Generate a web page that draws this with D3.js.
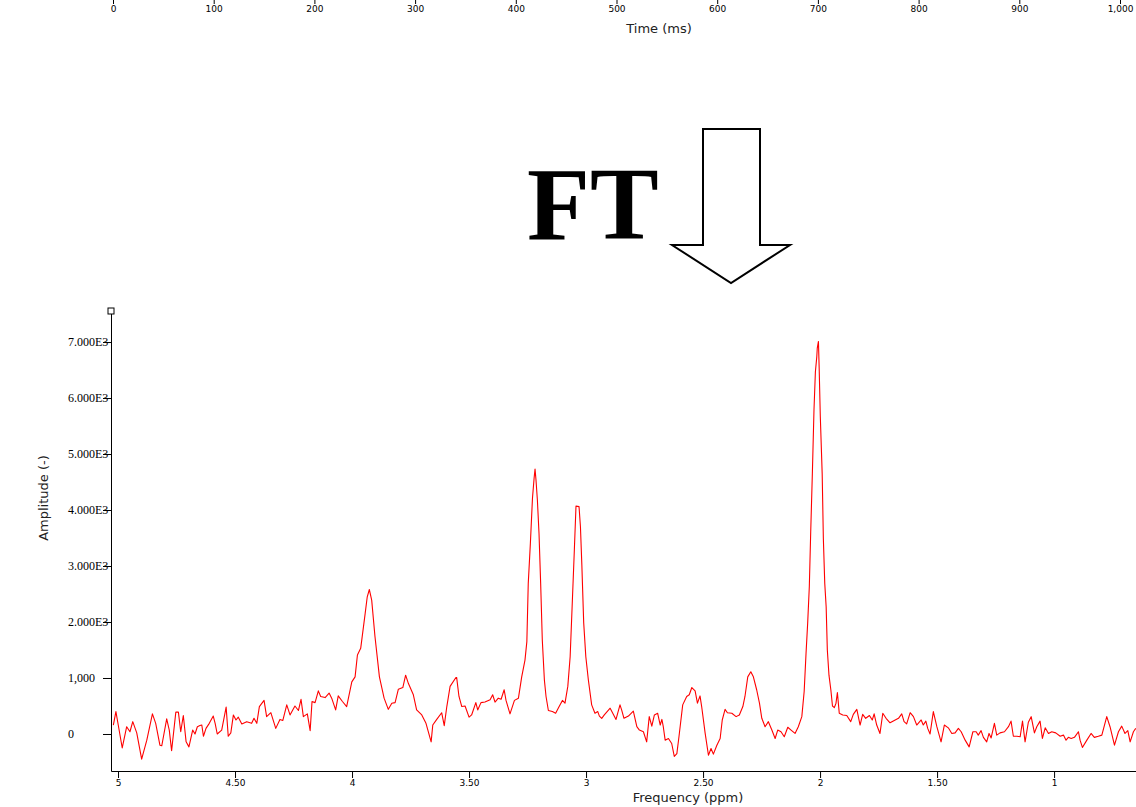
<!DOCTYPE html>
<html>
<head>
<meta charset="utf-8">
<script src="https://cdn.jsdelivr.net/npm/d3@7"></script>
<style>
  html, body { margin: 0; padding: 0; background: #fff; }
  svg { display: block; }
</style>
</head>
<body>
<svg id="chart" width="1136" height="807"></svg>
<script>
// ---------------- DATA ----------------
const timeTickValues = [0, 100, 200, 300, 400, 500, 600, 700, 800, 900, 1000];
const timeTickLabels = ["0", "100", "200", "300", "400", "500", "600", "700", "800", "900", "1,000"];

const freqTickValues = [5, 4.5, 4, 3.5, 3, 2.5, 2, 1.5, 1];
const freqTickLabels = ["5", "4.50", "4", "3.50", "3", "2.50", "2", "1.50", "1"];

const ampTickValues = [0, 1000, 2000, 3000, 4000, 5000, 6000, 7000];
const ampTickLabels = ["0", "1,000", "2.000E3", "3.000E3", "4.000E3", "5.000E3", "6.000E3", "7.000E3"];

const ppm = [
  5.020, 5.009, 4.999, 4.982, 4.963, 4.949, 4.937, 4.920, 4.899, 4.877,
  4.853, 4.839, 4.821, 4.813, 4.792, 4.781, 4.771, 4.753, 4.742, 4.732,
  4.721, 4.709, 4.697, 4.681, 4.671, 4.661, 4.650, 4.642, 4.635, 4.624,
  4.610, 4.593, 4.585, 4.576, 4.557, 4.538, 4.529, 4.518, 4.507, 4.496,
  4.486, 4.471, 4.450, 4.429, 4.419, 4.407, 4.396, 4.376, 4.365, 4.347,
  4.326, 4.308, 4.296, 4.279, 4.265, 4.244, 4.229, 4.218, 4.208, 4.191,
  4.179, 4.171, 4.158, 4.144, 4.134, 4.115, 4.098, 4.087, 4.070, 4.059,
  4.041, 4.023, 4.001, 3.987, 3.977, 3.963, 3.944, 3.935, 3.926, 3.916,
  3.902, 3.883, 3.863, 3.845, 3.830, 3.816, 3.802, 3.783, 3.771, 3.759,
  3.738, 3.724, 3.702, 3.684, 3.662, 3.655, 3.638, 3.617, 3.606, 3.595,
  3.581, 3.556, 3.553, 3.543, 3.531, 3.517, 3.500, 3.489, 3.471, 3.463,
  3.449, 3.432, 3.410, 3.399, 3.389, 3.375, 3.363, 3.350, 3.342, 3.325,
  3.306, 3.289, 3.275, 3.261, 3.253, 3.247, 3.238, 3.229, 3.222, 3.218,
  3.214, 3.208, 3.201, 3.194, 3.187, 3.178, 3.171, 3.161, 3.144, 3.130,
  3.115, 3.101, 3.090, 3.078, 3.068, 3.059, 3.050, 3.043, 3.030, 3.024,
  3.018, 3.010, 3.001, 2.990, 2.976, 2.962, 2.950, 2.943, 2.933, 2.922,
  2.897, 2.872, 2.855, 2.848, 2.838, 2.819, 2.798, 2.783, 2.772, 2.755,
  2.741, 2.730, 2.719, 2.708, 2.694, 2.683, 2.676, 2.670, 2.662, 2.648,
  2.634, 2.623, 2.612, 2.603, 2.587, 2.570, 2.559, 2.548, 2.534, 2.524,
  2.513, 2.506, 2.491, 2.477, 2.466, 2.456, 2.441, 2.427, 2.418, 2.406,
  2.396, 2.377, 2.359, 2.345, 2.330, 2.321, 2.309, 2.296, 2.285, 2.271,
  2.259, 2.249, 2.235, 2.221, 2.206, 2.192, 2.181, 2.167, 2.153, 2.138,
  2.124, 2.107, 2.093, 2.078, 2.068, 2.060, 2.053, 2.046, 2.040, 2.033,
  2.026, 2.020, 2.014, 2.012, 2.007, 2.004, 1.999, 1.991, 1.986, 1.980,
  1.974, 1.969, 1.962, 1.954, 1.947, 1.939, 1.932, 1.926, 1.918, 1.903,
  1.886, 1.869, 1.858, 1.843, 1.829, 1.818, 1.805, 1.789, 1.777, 1.769,
  1.758, 1.744, 1.732, 1.718, 1.701, 1.679, 1.665, 1.651, 1.641, 1.630,
  1.615, 1.601, 1.587, 1.568, 1.559, 1.548, 1.540, 1.530, 1.516, 1.501,
  1.483, 1.469, 1.452, 1.437, 1.423, 1.409, 1.397, 1.380, 1.363, 1.347,
  1.333, 1.324, 1.312, 1.302, 1.288, 1.278, 1.269, 1.255, 1.245, 1.231,
  1.212, 1.195, 1.184, 1.174, 1.159, 1.145, 1.135, 1.124, 1.110, 1.098,
  1.084, 1.074, 1.060, 1.050, 1.038, 1.024, 1.010, 0.993, 0.974, 0.960,
  0.949, 0.939, 0.927, 0.913, 0.896, 0.889, 0.879, 0.860, 0.842, 0.828,
  0.811, 0.796, 0.775, 0.761, 0.742, 0.725, 0.711, 0.697, 0.685, 0.675,
  0.661, 0.651
];

const amplitude = [
  160, 400, 160, -250, 130, 40, 220, 20, -450, -110,
  360, 190, -200, -210, 270, 70, -300, 390, 390, 40,
  330, -140, -230, 70, 0, 130, 150, 160, -40, 100,
  190, 320, 190, 0, 70, 480, -40, 20, 340, 250,
  300, 180, 220, 190, 280, 190, 490, 600, 310, 380,
  100, 260, 240, 520, 340, 500, 420, 620, 310, 360,
  60, 580, 560, 770, 670, 650, 730, 640, 430, 680,
  580, 490, 930, 1020, 1410, 1530, 2150, 2450, 2580, 2390,
  1740, 1020, 640, 440, 550, 560, 800, 830, 1050, 900,
  700, 430, 340, 190, -140, 160, 260, 380, 150, 490,
  850, 1010, 1010, 670, 490, 500, 300, 340, 560, 430,
  560, 570, 610, 700, 570, 640, 620, 790, 600, 360,
  600, 640, 1020, 1320, 1650, 2690, 3400, 4210, 4570, 4730,
  4540, 4180, 3580, 2690, 1680, 960, 670, 420, 400, 370,
  490, 600, 550, 850, 1380, 2330, 3290, 4070, 4060, 3700,
  3020, 1980, 1380, 960, 520, 370, 400, 320, 280, 340,
  460, 260, 520, 430, 280, 320, 410, 130, 70, 40,
  -140, 310, 140, 340, 370, 160, 260, 130, -110, -80,
  -170, -400, -350, -50, 520, 670, 700, 830, 770, 550,
  680, 490, 10, -380, -260, -360, -200, -80, 250, 440,
  380, 370, 310, 340, 490, 670, 1020, 1110, 1020, 790,
  550, 280, 130, 220, 70, -80, 70, 40, -50, 120,
  70, 10, 130, 310, 760, 1440, 1980, 2630, 3610, 4650,
  5790, 6470, 6740, 6890, 7010, 6560, 5670, 4650, 3490, 2690,
  2270, 1500, 1050, 790, 500, 470, 550, 740, 370, 340,
  330, 220, 350, 440, 160, 350, 280, 330, 250, 360,
  160, 10, 370, 280, 200, 250, 280, 360, 220, 180,
  380, 310, 160, 250, 160, 230, 100, 0, 400, 130,
  -140, 160, 110, 10, 20, 100, 40, -110, -230, 40,
  40, -20, 60, -60, -140, 10, -70, 190, -20, 20,
  40, 130, 230, -40, -40, -50, 230, -140, 210, 310,
  20, 130, 230, -80, 110, 10, 40, 20, -40, -20,
  -110, -60, -80, -60, 40, -110, -240, -110, 10, -60,
  -40, -20, 310, 130, -200, 40, 140, 10, 60, -140,
  40, 100
];

// ---------------- DRAWING ----------------
const svg = d3.select("#chart");

// Plot area
const plotLeft = 111, plotRight = 1136, plotTop = 311, plotBottom = 771;

const x = d3.scaleLinear().domain([5.03, 0.65]).range([plotLeft, plotRight]);
const y = d3.scaleLinear().domain([-661, 7554]).range([plotBottom, plotTop]);
const t = d3.scaleLinear().domain([0, 1000]).range([113, 1120]);

// Top (time) axis remnant: ticks and labels only
const timeAxis = d3.axisBottom(t)
  .tickValues(timeTickValues)
  .tickFormat((d, i) => timeTickLabels[i])
  .tickSize(6)
  .tickSizeOuter(0)
  .tickPadding(2);
const gt = svg.append("g").attr("transform", "translate(0,-2)").call(timeAxis);
gt.select(".domain").remove();
gt.selectAll("text").attr("font-family", "DejaVu Sans").attr("font-size", 9).attr("fill", "#000");
gt.selectAll("line").attr("stroke", "#000");

svg.append("text")
  .attr("x", 659).attr("y", 32.5)
  .attr("text-anchor", "middle")
  .attr("font-family", "DejaVu Sans").attr("font-size", 13)
  .attr("fill", "#222")
  .text("Time (ms)");

// FT label and arrow
svg.append("text")
  .attr("x", 527).attr("y", 239)
  .attr("font-family", "Liberation Serif, Times New Roman, serif")
  .attr("font-weight", "bold")
  .attr("font-size", 103)
  .attr("fill", "#000")
  .text("FT");

const arrowPts = [[703,129],[760,129],[760,245],[790,245],[731,283],[672,245],[703,245]];
svg.append("polygon")
  .attr("points", arrowPts.map(p => p.join(",")).join(" "))
  .attr("fill", "#fff")
  .attr("stroke", "#000")
  .attr("stroke-width", 2)
  .attr("stroke-linejoin", "miter");

// Clip for spectrum
svg.append("clipPath").attr("id", "plotclip")
  .append("rect").attr("x", plotLeft).attr("y", plotTop)
  .attr("width", plotRight - plotLeft).attr("height", plotBottom - plotTop);

// Spectrum line
const pts = ppm.map((p, i) => [p, amplitude[i]]);
const line = d3.line().x(d => x(d[0])).y(d => y(d[1]));
svg.append("path")
  .datum(pts)
  .attr("clip-path", "url(#plotclip)")
  .attr("d", line)
  .attr("fill", "none")
  .attr("stroke", "#ff0000")
  .attr("stroke-width", 1.1)
  .attr("stroke-linejoin", "round");

// X axis (frequency)
const xAxis = d3.axisBottom(x)
  .tickValues(freqTickValues)
  .tickFormat((d, i) => freqTickLabels[i])
  .tickSize(7)
  .tickSizeOuter(0)
  .tickPadding(2);
const gx = svg.append("g").attr("transform", `translate(0,${plotBottom})`).call(xAxis);
gx.selectAll("text").attr("font-family", "DejaVu Sans").attr("font-size", 9).attr("fill", "#000");
gx.selectAll("line, path").attr("stroke", "#000");

svg.append("text")
  .attr("x", 688).attr("y", 801.5)
  .attr("text-anchor", "middle")
  .attr("font-family", "DejaVu Sans").attr("font-size", 13)
  .attr("fill", "#222")
  .text("Frequency (ppm)");

// Y axis (amplitude)
const yAxis = d3.axisLeft(y)
  .tickValues(ampTickValues)
  .tickFormat((d, i) => ampTickLabels[i])
  .tickSize(8)
  .tickSizeOuter(0);
const gy = svg.append("g").attr("transform", `translate(${plotLeft},0)`).call(yAxis);
gy.selectAll("text")
  .attr("x", 68 - plotLeft)
  .attr("text-anchor", "start")
  .attr("font-family", "Liberation Serif, Times New Roman, serif")
  .attr("font-size", 12)
  .attr("fill", "#000");
gy.selectAll("line, path").attr("stroke", "#000");

// small square handle at top of y axis
svg.append("rect")
  .attr("x", plotLeft - 3).attr("y", plotTop - 3)
  .attr("width", 6).attr("height", 6)
  .attr("fill", "#fff").attr("stroke", "#000").attr("stroke-width", 1);

svg.append("text")
  .attr("transform", "translate(48,498) rotate(-90)")
  .attr("text-anchor", "middle")
  .attr("font-family", "DejaVu Sans").attr("font-size", 13)
  .attr("fill", "#222")
  .text("Amplitude (-)");
</script>
</body>
</html>
